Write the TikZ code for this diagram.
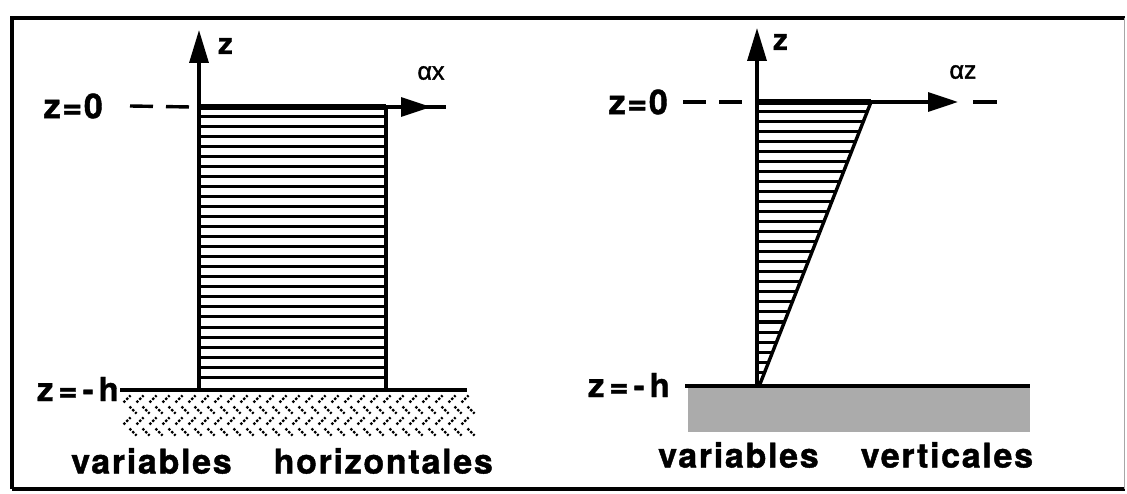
\documentclass[tikz,border=0pt]{standalone}
\usepackage{fontspec}
\setmainfont{TeX Gyre Heros}
\newfontfamily\lblfont{TeX Gyre Heros}[FakeBold=1.2, LetterSpace=5]
\newfontfamily\hfont{TeX Gyre Heros}[FakeBold=1.2, LetterSpace=15]
\newfontfamily\grk{Liberation Sans}[FakeBold=1.5]
\usetikzlibrary{arrows.meta}
\begin{document}
\begin{tikzpicture}[x=1pt,y=-1pt,
  lbl/.style={font=\fontsize{34}{34}\selectfont\lblfont\bfseries, inner sep=0pt},
  hlbl/.style={font=\fontsize{33}{33}\selectfont\hfont\bfseries, inner sep=0pt},
  axlbl/.style={font=\fontsize{29}{29}\selectfont\lblfont\bfseries, inner sep=0pt},
  alpl/.style={font=\fontsize{25}{25}\selectfont\grk, inner sep=0pt},
  axisline/.style={line width=3.4pt},
  vhead/.style={-{Triangle[length=33pt,width=19pt]}},
  hhead/.style={-{Triangle[length=30pt,width=19pt]}},
  topline/.style={line width=6pt},
  hatchline/.style={line width=3pt},
  dashline/.style={line width=3.4pt, dash pattern=on 23pt off 13pt},
  groundline/.style={line width=4.5pt},
  gmark/.style={line width=2.2pt, dash pattern=on 2.4pt off 1.6pt},
  framel/.style={line width=4.5pt}
]
\useasboundingbox (0,0) rectangle (1127,494);
% frame
\draw[framel] (12,489) -- (12,18) -- (1125,18);
\draw[framel] (12,489) -- (1125,489);
\draw[line width=1pt, black!35] (1124,18) -- (1124,489);

% ---------- left diagram ----------
\coordinate (Lo) at (199,107);
\coordinate (Lb) at (199,389);
\coordinate (Lt) at (199,30);
\coordinate (Lr) at (386,107);
\coordinate (Lrb) at (386,389);
\coordinate (Ltip) at (431,107);
\coordinate (Lend) at (446,107);
\foreach \y in {117,127,...,377} \draw[hatchline] (199,\y) -- (386,\y);
\draw[axisline] (Lr) -- (Lrb);
\draw[axisline, vhead] (Lb) -- (Lt);
\draw[axisline] (Lr) -- (Lend);
\draw[axisline, hhead] (Lo) -- (Ltip);
\draw[topline] (Lo) -- (Lr);
\node[axlbl, anchor=west] (Lz) at (218,46) {z};
\node[alpl] (Lax) at (431,73) {αx};
\node[lbl, anchor=east] (L0) at (103,106) {z=0};
\draw[dashline] ([xshift=27pt]L0.east) -- ([xshift=-8pt]Lo);
% ground
\coordinate (Lg1) at (120,390);
\coordinate (Lg2) at (467,390);
\draw[groundline] (Lg1) -- (Lg2);
\node[hlbl, anchor=east] (Lh) at (119,389) {z=-h};
\foreach \r in {0,1,2,3}{
  \foreach \i in {0,...,26}{
    \pgfmathsetmacro\xx{127+13*\i+6*mod(\r,2)}
    \pgfmathsetmacro\yy{399+11*\r}
    \pgfmathsetmacro\s{ifthenelse(mod(\r,2)==0,1,-1)}
    \draw[gmark] (\xx-3.5,\yy+3.5*\s) -- (\xx+3.5,\yy-3.5*\s);
  }
}
\node[lbl, anchor=west] (Ltext) at (71,461) {variables\hspace{42pt}horizontales};

% ---------- right diagram ----------
\coordinate (Ro) at (757,102);
\coordinate (Rb) at (757,386);
\coordinate (Rt) at (757,28);
\coordinate (Rr) at (871,102);
\coordinate (Rbot) at (760,384);
\coordinate (Rtip) at (958,102);
\foreach \y in {112,122,...,382}{
  \pgfmathsetmacro\xr{871-(\y-102)/282*111}
  \draw[hatchline] (757,\y) -- (\xr,\y);
}
\draw[axisline] (Rr) -- (Rbot);
\draw[axisline, vhead] (Rb) -- (Rt);
\draw[axisline, hhead] (Ro) -- (Rtip);
\draw[topline] (Ro) -- (Rr);
\coordinate (Rd1) at (973,102);
\coordinate (Rd2) at (997,102);
\draw[axisline] (Rd1) -- (Rd2);
\node[axlbl, anchor=west] (Rz) at (773,42) {z};
\node[alpl] (Raz) at (963,72) {αz};
\node[lbl, anchor=east] (R0) at (668,102) {z=0};
\draw[dashline] ([xshift=15pt]R0.east) -- ([xshift=-10pt]Ro);
\coordinate (Rg1) at (685,386);
\coordinate (Rg2) at (1030,386);
\fill[black!33] (688,388) rectangle (1030,432);
\draw[groundline] (Rg1) -- (Rg2);
\node[hlbl, anchor=east] (Rh) at (670,385) {z=-h};
\node[lbl, anchor=west] (Rtext) at (658,455) {variables\hspace{42pt}verticales};
\end{tikzpicture}
\end{document}
